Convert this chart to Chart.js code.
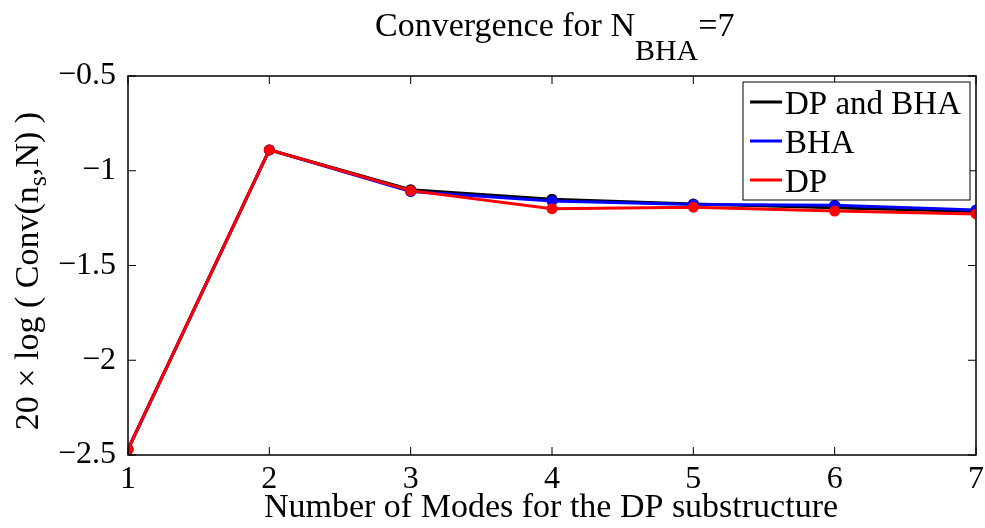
<!DOCTYPE html>
<html>
<head>
<meta charset="utf-8">
<script src="https://cdn.jsdelivr.net/npm/chart.js@4.4.1/dist/chart.umd.min.js"></script>
<style>
  body { margin: 0; background: #fff; }
</style>
</head>
<body>
<canvas id="chart" width="985" height="528"></canvas>
<script>
const modes = [1, 2, 3, 4, 5, 6, 7];
const dpAndBha = [-2.47, -0.89, -1.10, -1.15, -1.175, -1.195, -1.215];
const bha = [-2.47, -0.89, -1.11, -1.16, -1.178, -1.182, -1.207];
const dp = [-2.47, -0.89, -1.105, -1.20, -1.192, -1.213, -1.228];
const yTicks = [-2.5, -2, -1.5, -1, -0.5];

const serif = '"Liberation Serif", "Times New Roman", serif';

const toPoints = (vals) => vals.map((v, i) => ({ x: modes[i], y: v }));

const frame = {
  id: 'frame',
  afterDraw(chart) {
    const { ctx, chartArea: a, scales } = chart;
    ctx.save();
    ctx.strokeStyle = '#000';
    ctx.lineWidth = 1.5;
    ctx.strokeRect(a.left, a.top, a.right - a.left, a.bottom - a.top);
    ctx.lineWidth = 1;
    ctx.beginPath();
    modes.forEach(m => {
      const px = scales.x.getPixelForValue(m);
      ctx.moveTo(px, a.bottom); ctx.lineTo(px, a.bottom - 8);
      ctx.moveTo(px, a.top); ctx.lineTo(px, a.top + 8);
    });
    yTicks.forEach(t => {
      const py = scales.y.getPixelForValue(t);
      ctx.moveTo(a.left, py); ctx.lineTo(a.left + 8, py);
      ctx.moveTo(a.right, py); ctx.lineTo(a.right - 8, py);
    });
    ctx.stroke();

    // legend
    const lx = 743, ly = 82, lw = 227, lh = 118;
    ctx.fillStyle = '#fff';
    ctx.fillRect(lx, ly, lw, lh);
    ctx.strokeStyle = '#000';
    ctx.lineWidth = 1;
    ctx.strokeRect(lx, ly, lw, lh);
    ctx.font = '33px ' + serif;
    ctx.textBaseline = 'alphabetic';
    ctx.textAlign = 'left';
    chart.data.datasets.forEach((ds, i) => {
      const yy = 102 + i * 39;
      ctx.strokeStyle = ds.borderColor;
      ctx.lineWidth = 3;
      ctx.beginPath();
      ctx.moveTo(750, yy); ctx.lineTo(782, yy);
      ctx.stroke();
      ctx.fillStyle = '#000';
      ctx.fillText(ds.label, 785, yy + 12);
    });

    // title
    ctx.fillStyle = '#000';
    ctx.font = '34px ' + serif;
    let x = 375;
    ctx.fillText('Convergence for N', x, 36);
    x += ctx.measureText('Convergence for N').width;
    ctx.font = '30px ' + serif;
    ctx.fillText('BHA', x, 60);
    x += ctx.measureText('BHA').width;
    ctx.font = '34px ' + serif;
    ctx.fillText('=7', x, 36);

    // x axis title
    ctx.textAlign = 'center';
    ctx.fillText('Number of Modes for the DP substructure', 551, 517);

    // y axis title
    ctx.save();
    ctx.translate(38, 271);
    ctx.rotate(-Math.PI / 2);
    ctx.textAlign = 'left';
    const p1 = '20 \u00d7 log ( Conv(n', p2 = 's', p3 = ',N) )';
    ctx.font = '34px ' + serif;
    const w1 = ctx.measureText(p1).width;
    const w3 = ctx.measureText(p3).width;
    ctx.font = '26px ' + serif;
    const w2 = ctx.measureText(p2).width;
    let sx = -(w1 + w2 + w3) / 2;
    ctx.font = '34px ' + serif;
    ctx.fillText(p1, sx, 0);
    sx += w1;
    ctx.font = '26px ' + serif;
    ctx.fillText(p2, sx, 8);
    sx += w2;
    ctx.font = '34px ' + serif;
    ctx.fillText(p3, sx, 0);
    ctx.restore();
    ctx.restore();
  }
};

const ds = (label, vals, color, order) => ({
  label, data: toPoints(vals), borderColor: color, backgroundColor: color,
  borderWidth: 3, pointRadius: 5.5, pointHoverRadius: 5.5, pointBorderWidth: 0,
  tension: 0, order
});

new Chart(document.getElementById('chart'), {
  type: 'line',
  data: {
    datasets: [
      ds('DP and BHA', dpAndBha, '#000000', 3),
      ds('BHA', bha, '#0000ff', 2),
      ds('DP', dp, '#ff0000', 1)
    ]
  },
  options: {
    responsive: false,
    animation: false,
    layout: { padding: { top: 76, right: 9, left: 0, bottom: 0 } },
    plugins: { legend: { display: false }, tooltip: { enabled: false }, title: { display: false } },
    scales: {
      x: {
        type: 'linear', min: 1, max: 7,
        afterFit: s => { s.height = 73; s.paddingRight = 0; s.paddingLeft = 0; },
        grid: { display: false },
        border: { display: false },
        ticks: {
          stepSize: 1, padding: -3, color: '#000',
          font: { family: serif, size: 32 }
        }
      },
      y: {
        min: -2.5, max: -0.5,
        afterFit: s => { s.width = 128; s.paddingTop = 0; s.paddingBottom = 0; },
        grid: { display: false },
        border: { display: false },
        afterBuildTicks: s => { s.ticks = yTicks.map(v => ({ value: v })); },
        ticks: {
          padding: 4, color: '#000',
          font: { family: serif, size: 32 },
          callback: v => String(v).replace('-', '\u2212')
        }
      }
    }
  },
  plugins: [frame]
});
</script>
</body>
</html>
